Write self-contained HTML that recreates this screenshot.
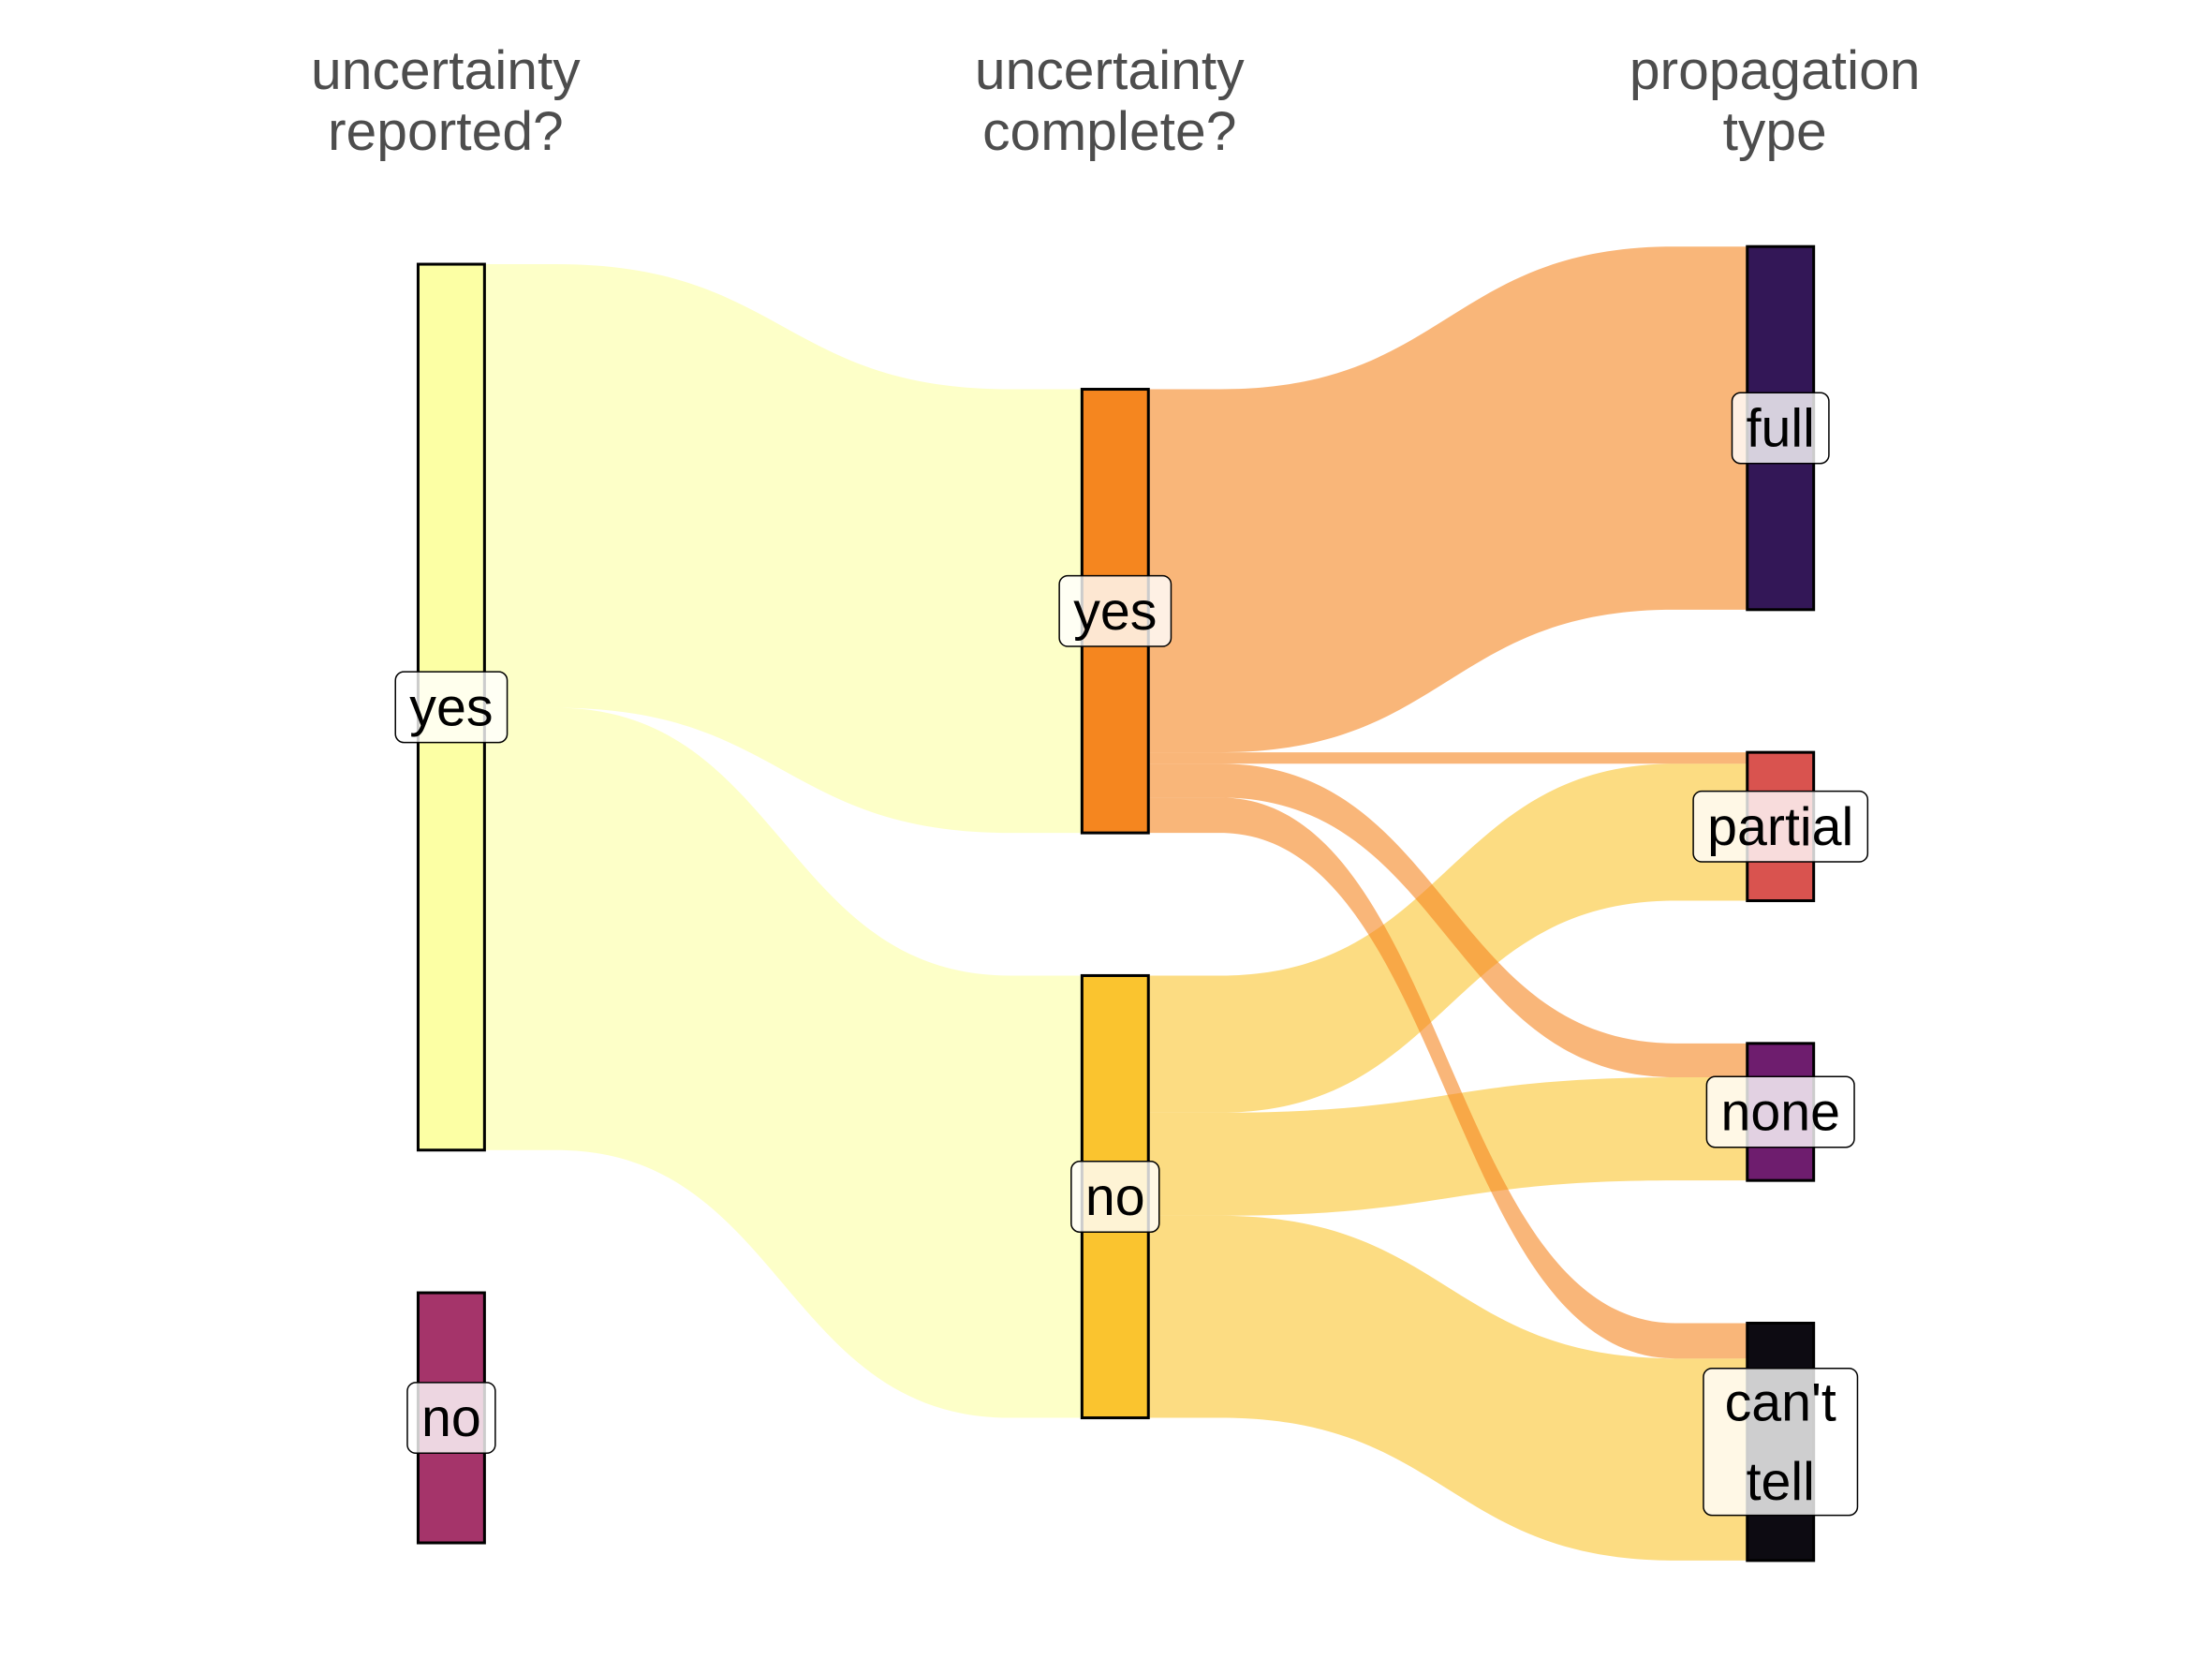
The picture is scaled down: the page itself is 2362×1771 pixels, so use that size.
<!DOCTYPE html>
<html><head><meta charset="utf-8"><style>
html,body{margin:0;padding:0;background:#fff}
svg{display:block}
text{font-family:"Liberation Sans",sans-serif}
</style></head><body>
<svg id="chart" width="2362" height="1771" viewBox="0 0 1566 1174.2" preserveAspectRatio="none" xmlns="http://www.w3.org/2000/svg">
<g id="flows"></g>
<g id="nodes"></g>
<g id="labels"></g>
<g id="titles"></g>
</svg>
<script>
const axisTitles = [["uncertainty","reported?"],["uncertainty","complete?"],["propagation","type"]];
const col1Nodes = ["yes","no"];
const col2Nodes = ["yes","no"];
const col3Nodes = ["full","partial","none","can't tell"];
const col1Values = [627, 177];
const flows12 = [["yes","yes",314],["yes","no",313]];
const flows23 = [["yes","full",257],["yes","partial",8],["yes","none",24],["yes","can't tell",25],
                 ["no","partial",97],["no","none",73],["no","can't tell",143]];
const col1Colors = {"yes":"#fcffa4","no":"#a5346a"};
const col2Colors = {"yes":"#f5861f","no":"#fac42f"};
const col3Colors = {"full":"#331757","partial":"#d9534f","none":"#6e1d6e","can't tell":"#0d0b12"};

const NS="http://www.w3.org/2000/svg";
const colX=[296,766,1237], W=47, GAP=101, CY=639.5;
function mk(tag,attrs,parent){const e=document.createElementNS(NS,tag);for(const k in attrs)e.setAttribute(k,attrs[k]);parent.appendChild(e);return e;}
function layout(names,vals){const tot=vals.reduce((a,b)=>a+b,0)+GAP*(names.length-1);let y=CY-tot/2;const r={};names.forEach((n,i)=>{r[n]={y:y,h:vals[i]};y+=vals[i]+GAP;});return r;}
const c2vals=col2Nodes.map(n=>flows12.filter(f=>f[1]===n).reduce((a,f)=>a+f[2],0));
const c3vals=col3Nodes.map(n=>flows23.filter(f=>f[1]===n).reduce((a,f)=>a+f[2],0));
const L1=layout(col1Nodes,col1Values),L2=layout(col2Nodes,c2vals),L3=layout(col3Nodes,c3vals);
const gF=document.getElementById('flows');
function drawFlows(fl,LA,LB,xa,xb,colors,order){
  const outOff={},inOff={};
  const paths=[];
  fl.forEach(f=>{
    const [s,t,v]=f;
    const o=outOff[s]||0, i=inOff[t]||0;
    outOff[s]=o+v; inOff[t]=i+v;
    const y0=LA[s].y+o,y1=LB[t].y+i,dx=xb-xa,m=(xa+xb)/2;
    const a=xa+0.12*dx,b=xb-0.12*dx;
    const d=`M${xa},${y0} L${a},${y0} C${m},${y0} ${m},${y1} ${b},${y1} L${xb},${y1} L${xb},${y1+v} L${b},${y1+v} C${m},${y1+v} ${m},${y0+v} ${a},${y0+v} L${xa},${y0+v} Z`;
    paths.push({s,t,d});
  });
  order(paths).forEach(p=>{
    const el=mk('path',{d:p.d,fill:colors[p.s],'fill-opacity':0.6},gF);
    
    
  });
}
drawFlows(flows12,L1,L2,colX[0]+W,colX[1],col1Colors,p=>p);
drawFlows(flows23,L2,L3,colX[1]+W,colX[2],col2Colors,p=>p.slice().reverse());
const gN=document.getElementById('nodes'),gL=document.getElementById('labels');
function drawNodes(L,x,colors,prefix){
  for(const n in L){
    const r=mk('rect',{x:x,y:L[n].y,width:W,height:L[n].h,fill:colors[n],stroke:'#000','stroke-width':2},gN);
    
    
    const lines=n==="can't tell"?["can't","tell"]:[n];
    const cx=x+W/2,cy=L[n].y+L[n].h/2;
    const bh=lines.length===1?50:104;
    const g=mk('g',{},gL);
    
    
    const box=mk('rect',{y:cy-bh/2,height:bh,rx:6,fill:'#fff','fill-opacity':0.8,stroke:'#000','stroke-width':1},g);
    let tw=0;
    lines.forEach((s,i)=>{
      const t=mk('text',{x:cx,y:cy+13+(i-(lines.length-1)/2)*56,'text-anchor':'middle','font-size':38,fill:'#000'},g);
      t.textContent=s;
      tw=Math.max(tw,t.getComputedTextLength());
    });
    const bw=tw+(lines.length===1?20:30);
    box.setAttribute('x',cx-bw/2);box.setAttribute('width',bw);
  }
}
drawNodes(L1,colX[0],col1Colors,'reported');
drawNodes(L2,colX[1],col2Colors,'complete');
drawNodes(L3,colX[2],col3Colors,'propagation');
const gT=document.getElementById('titles');
axisTitles.forEach((lines,i)=>{
  const t=mk('text',{x:colX[i]+W/2,'text-anchor':'middle','font-size':39,fill:'#4d4d4d'},gT);
  
  
  lines.forEach((s,j)=>{const ts=mk('tspan',{x:colX[i]+W/2-4,y:63+j*43},t);ts.textContent=s;});
});
</script>
</body></html>
